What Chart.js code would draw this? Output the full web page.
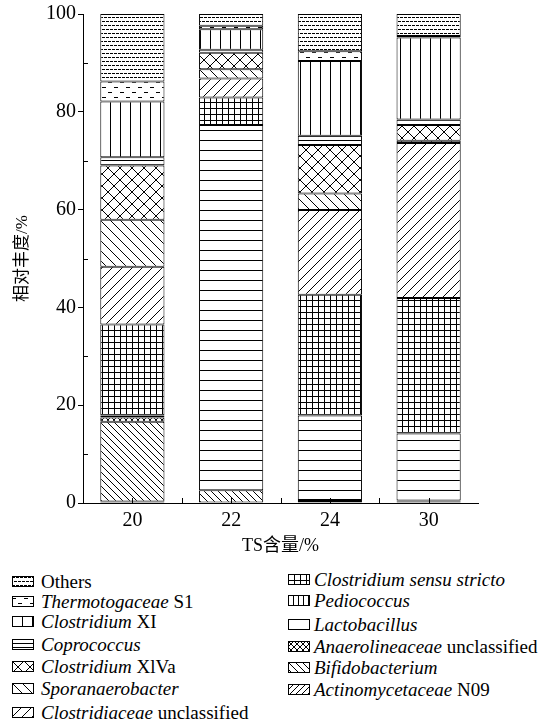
<!DOCTYPE html>
<html><head><meta charset="utf-8">
<script src="https://cdn.jsdelivr.net/npm/chart.js@4.4.1/dist/chart.umd.min.js"></script>
<style>
html,body{margin:0;padding:0;background:#fff;}
#wrap{position:relative;width:557px;height:727px;overflow:hidden;}
#c{position:absolute;left:0;top:0;}
.lg{position:absolute;font-family:"Liberation Serif","Times New Roman",Times,"Noto Serif","DejaVu Serif",FreeSerif,"Nimbus Roman",serif;font-size:19px;color:#000;white-space:nowrap;line-height:19px;}
.sw{position:absolute;}
</style></head><body>
<div id="wrap"><canvas id="c" width="557" height="560"></canvas><div id="legend"></div></div>
<script>
// ---- data (stack order: listed top-to-bottom as in the legend) ----
const categories = ['20', '22', '24', '30'];
const others                  = [13.8,  2.4,  7.6,  4.5];
const thermotogaceaeS1        = [ 4.1,  0.7,  2.0,  0.3];
const clostridiumXI           = [11.4,  4.2, 15.3, 16.8];
const coprococcus             = [ 1.7,  0.6,  1.9,  1.1];
const clostridiumXIVa         = [11.1,  3.4,  9.9,  3.2];
const sporanaerobacter        = [ 9.6,  1.9,  3.4,  0.5];
const clostridiaceaeUncl      = [11.8,  3.9, 17.3, 31.7];
const clostridiumSensuStricto = [18.6,  5.6, 24.7, 27.7];
const pediococcus             = [ 0.0,  0.0,  0.0,  0.0];
const lactobacillus           = [ 0.4, 74.7, 17.3, 13.7];
const anaerolineaceaeUncl     = [ 0.9,  0.0,  0.2,  0.2];
const bifidobacterium         = [16.3,  2.6,  0.3,  0.2];
const actinomycetaceaeN09     = [ 0.3,  0.0,  0.1,  0.1];
const seriesItalic = ['', 'Thermotogaceae', 'Clostridium', 'Coprococcus', 'Clostridium', 'Sporanaerobacter',
  'Clostridiaceae', 'Clostridium sensu stricto', 'Pediococcus', 'Lactobacillus', 'Anaerolineaceae',
  'Bifidobacterium', 'Actinomycetaceae'];
const seriesPlain = ['Others', ' S1', ' XI', '', ' XlVa', '', ' unclassified', '', '', '', ' unclassified', '', ' N09'];
const yTickStep = 20;
const yMin = 0, yMax = 100;
const xTitle = 'TS含量/%';
const yTitle = '相对丰度/%';

const seriesValues = [others, thermotogaceaeS1, clostridiumXI, coprococcus, clostridiumXIVa, sporanaerobacter,
  clostridiaceaeUncl, clostridiumSensuStricto, pediococcus, lactobacillus, anaerolineaceaeUncl,
  bifidobacterium, actinomycetaceaeN09];
const patternKinds = ['dots', 'dash', 'vwide', 'hdense', 'diamond', 'bslash', 'slash', 'grid', 'vnarrow',
  'hwide', 'xsmall', 'bslashd', 'slashd'];

// ---- patterns ----
function tile(w, h, draw) {
  const c = document.createElement('canvas');
  c.width = w; c.height = h;
  const g = c.getContext('2d');
  g.fillStyle = '#fff'; g.fillRect(0, 0, w, h);
  g.fillStyle = '#000'; g.strokeStyle = '#000'; g.lineWidth = 1;
  draw(g, w, h);
  return c;
}
function diag(g, s, dir) {
  g.beginPath();
  for (let k = -1; k <= 1; k++) {
    if (dir > 0) { g.moveTo(k * s - 1, s + 1); g.lineTo(k * s + s + 1, -1); }
    else { g.moveTo(k * s - 1, -1); g.lineTo(k * s + s + 1, s + 1); }
  }
  g.stroke();
}
function makeTile(kind) {
  switch (kind) {
    case 'dots': return tile(8, 8, g => { g.fillRect(0,1,3,1); g.fillRect(4,1,3,1); g.fillRect(2,5,3,1); g.fillRect(6,5,2,1); g.fillRect(0,5,1,1); });
    case 'dash': return tile(12, 10, g => { g.fillRect(0,2,4,1); g.fillRect(6,7,4,1); });
    case 'vwide': return tile(10, 4, g => { g.fillRect(0,0,1,4); });
    case 'hdense': return tile(4, 4, g => { g.fillRect(0,0,4,1); });
    case 'diamond': return tile(12, 12, g => { diag(g, 12, 1); diag(g, 12, -1); });
    case 'bslash': return tile(10, 10, g => diag(g, 10, -1));
    case 'slash': return tile(10, 10, g => diag(g, 10, 1));
    case 'grid': return tile(6, 6, g => { g.fillRect(0,0,6,1); g.fillRect(0,0,1,6); });
    case 'vnarrow': return tile(5, 4, g => { g.fillRect(0,0,1,4); });
    case 'hwide': return tile(4, 10, g => { g.fillRect(0,0,4,1); });
    case 'xsmall': return tile(6, 6, g => { diag(g, 6, 1); diag(g, 6, -1); });
    case 'bslashd': return tile(7, 7, g => diag(g, 7, -1));
    case 'slashd': return tile(6, 6, g => diag(g, 6, 1));
  }
}
const ctx = document.getElementById('c').getContext('2d');
const patterns = patternKinds.map(k => ctx.createPattern(makeTile(k), 'repeat'));

// datasets: bottom of stack first
const datasets = [];
for (let i = seriesValues.length - 1; i >= 0; i--) {
  datasets.push({
    label: (seriesItalic[i] + seriesPlain[i]).trim(),
    data: seriesValues[i],
    backgroundColor: patterns[i],
    borderColor: '#000',
    borderWidth: 1,
    borderSkipped: false,
    barPercentage: 0.65,
    categoryPercentage: 1.0
  });
}

const serif = '"Liberation Serif", "Times New Roman", Times, "Noto Serif", "DejaVu Serif", FreeSerif, "Noto Sans CJK SC", serif';
const minorTicks = {
  id: 'minorTicks',
  afterDraw(chart) {
    const { ctx, chartArea: a, scales: { x, y } } = chart;
    ctx.save();
    ctx.strokeStyle = '#000'; ctx.lineWidth = 1;
    ctx.beginPath();
    for (let v = yMin + yTickStep / 2; v < yMax; v += yTickStep) {
      const py = Math.round(y.getPixelForValue(v)) + 0.5;
      ctx.moveTo(a.left, py); ctx.lineTo(a.left + 5, py);
    }
    for (let i = 0; i < categories.length; i++) {
      const cx = Math.round(x.getPixelForValue(i)) + 0.5;
      ctx.moveTo(cx, a.bottom); ctx.lineTo(cx, a.bottom - 5);
      if (i > 0) {
        const bx = Math.round((x.getPixelForValue(i - 1) + x.getPixelForValue(i)) / 2) + 0.5;
        ctx.moveTo(bx, a.bottom); ctx.lineTo(bx, a.bottom - 5);
      }
    }
    ctx.stroke();
    ctx.restore();
  }
};

new Chart(ctx, {
  type: 'bar',
  data: { labels: categories, datasets },
  options: {
    responsive: false,
    animation: false,
    devicePixelRatio: 1,
    layout: { padding: { left: 0, right: 79, top: 11, bottom: 0 } },
    plugins: { legend: { display: false }, tooltip: { enabled: false } },
    scales: {
      x: {
        stacked: true,
        grid: { display: false, drawTicks: false, tickLength: 0 },
        border: { display: true, color: '#000', width: 1 },
        ticks: { color: '#000', font: { family: serif, size: 20 }, padding: 6 },
        title: { display: true, text: xTitle, color: '#000', font: { family: serif, size: 18 }, padding: { top: 0, bottom: 3 } },
        afterFit(s) { s.height = 57; }
      },
      y: {
        stacked: true,
        min: yMin, max: yMax,
        grid: { display: true, drawOnChartArea: false, drawTicks: true, tickLength: 5, color: '#000' },
        border: { display: true, color: '#000', width: 1 },
        ticks: { stepSize: yTickStep, color: '#000', font: { family: serif, size: 20 }, padding: 2 },
        title: { display: true, text: yTitle, color: '#000', font: { family: serif, size: 17 }, padding: { top: 12, bottom: 0 } },
        afterFit(s) { s.width = 83; }
      }
    }
  },
  plugins: [minorTicks]
});

// ---- HTML legend (two columns, same patterns) ----
const legendEl = document.getElementById('legend');
const leftRows = [582, 602, 622, 645, 667, 689, 713];
const rightRows = [580, 601, 625, 647, 668, 690];
seriesValues.forEach((_, i) => {
  const left = i < 7;
  const cy = left ? leftRows[i] : rightRows[i - 7];
  const sx = left ? 12 : 288, tx = left ? 41 : 314;
  const sw = document.createElement('canvas');
  sw.width = 22; sw.height = 11; sw.className = 'sw';
  sw.style.left = sx + 'px'; sw.style.top = (cy - 6) + 'px';
  const g = sw.getContext('2d');
  g.fillStyle = g.createPattern(makeTile(patternKinds[i]), 'repeat');
  g.fillRect(0, 0, 22, 11);
  g.strokeStyle = '#000'; g.lineWidth = 1; g.strokeRect(0.5, 0.5, 21, 10);
  legendEl.appendChild(sw);
  const t = document.createElement('div');
  t.className = 'lg';
  t.style.left = tx + 'px'; t.style.top = (cy - 10) + 'px';
  if (seriesItalic[i]) { const it = document.createElement('i'); it.textContent = seriesItalic[i]; t.appendChild(it); }
  if (seriesPlain[i]) t.appendChild(document.createTextNode(seriesPlain[i]));
  legendEl.appendChild(t);
});
</script>
</body></html>
